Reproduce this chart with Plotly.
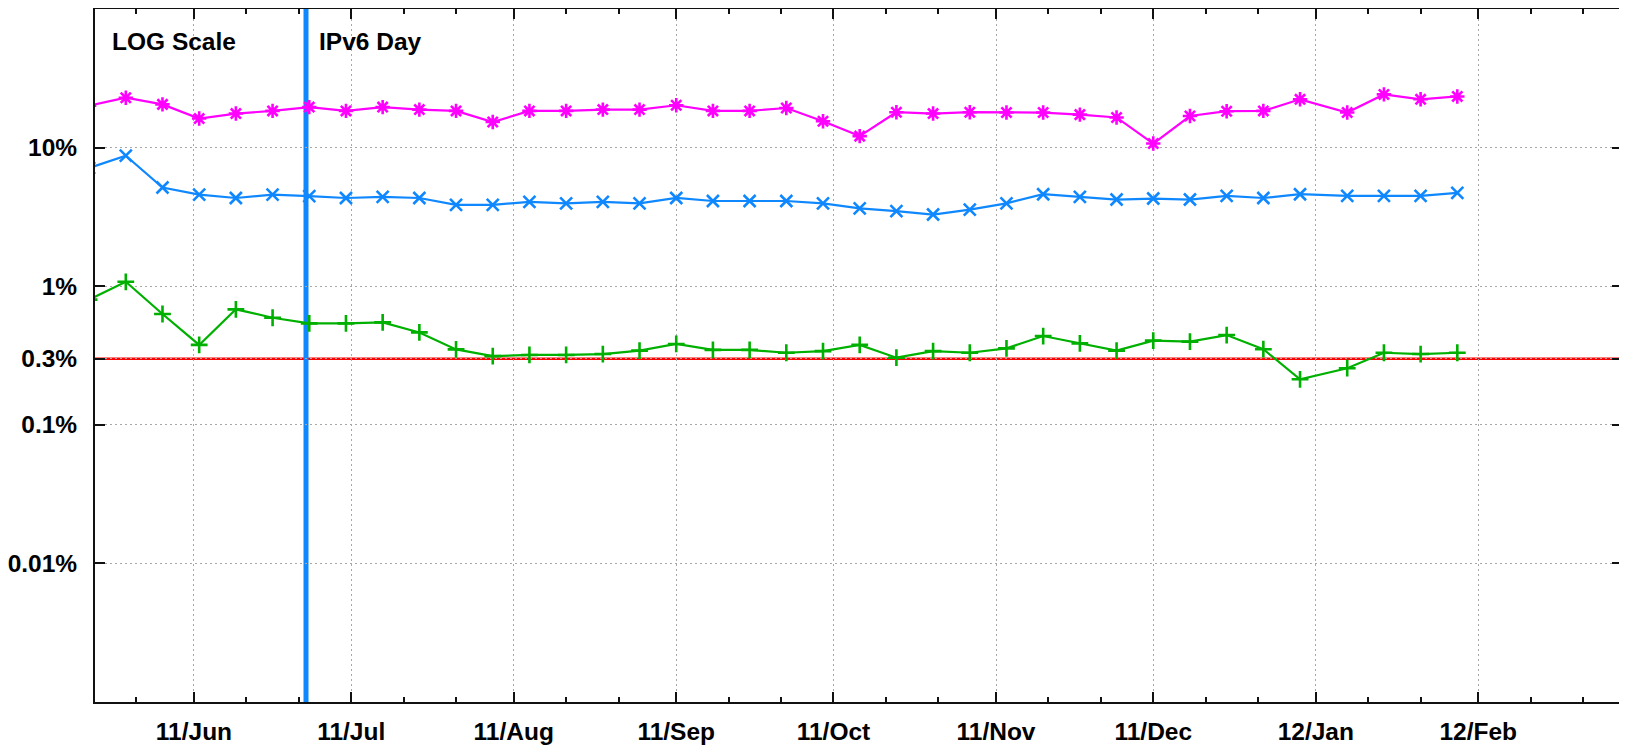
import plotly.graph_objects as go

# ---------------- data (percent values, weekly samples) ----------------
dates = [
    "2011-05-12", "2011-05-19", "2011-05-26", "2011-06-02", "2011-06-09",
    "2011-06-16", "2011-06-23", "2011-06-30", "2011-07-07", "2011-07-14",
    "2011-07-21", "2011-07-28", "2011-08-04", "2011-08-11", "2011-08-18",
    "2011-08-25", "2011-09-01", "2011-09-08", "2011-09-15", "2011-09-22",
    "2011-09-29", "2011-10-06", "2011-10-13", "2011-10-20", "2011-10-27",
    "2011-11-03", "2011-11-10", "2011-11-17", "2011-11-24", "2011-12-01",
    "2011-12-08", "2011-12-15", "2011-12-22", "2011-12-29", "2012-01-07",
    "2012-01-14", "2012-01-21", "2012-01-28",
]

magenta_series = [
    20.1, 22.9, 20.5, 16.2, 17.6, 18.4, 19.6, 18.4, 19.6, 18.8, 18.4, 15.3, 18.4,
    18.4, 18.8, 18.8, 20.2, 18.4, 18.4, 19.3, 15.5, 12.1, 18.0, 17.6, 18.0,
    17.9, 17.9, 17.3, 16.5, 10.7, 16.9, 18.3, 18.4, 22.3, 17.9, 24.2, 22.3, 23.4,
]

blue_series = [
    7.13, 8.75, 5.15, 4.58, 4.33, 4.58, 4.46, 4.33, 4.41, 4.33, 3.86, 3.86, 4.06,
    3.96, 4.06, 3.96, 4.33, 4.12, 4.12, 4.12, 3.96, 3.64, 3.48, 3.29, 3.57,
    3.96, 4.61, 4.41, 4.22, 4.29, 4.22, 4.48, 4.33, 4.61, 4.48, 4.48, 4.48, 4.71,
]

green_series = [
    0.80, 1.076, 0.630, 0.377, 0.681, 0.592, 0.539, 0.539, 0.548, 0.464, 0.350, 0.313, 0.319,
    0.319, 0.324, 0.343, 0.383, 0.347, 0.347, 0.331, 0.340, 0.377, 0.305, 0.340, 0.331,
    0.356, 0.437, 0.387, 0.343, 0.405, 0.398, 0.444, 0.351, 0.213, 0.256, 0.331, 0.324, 0.331,
]

threshold_pct = [0.3]
ipv6_day = ["2011-06-22 09:00"]

x_tick_dates = [
    "2011-06-01", "2011-07-01", "2011-08-01", "2011-09-01", "2011-10-01",
    "2011-11-01", "2011-12-01", "2012-01-01", "2012-02-01",
]
x_tick_labels = ["11/Jun", "11/Jul", "11/Aug", "11/Sep", "11/Oct",
                 "11/Nov", "11/Dec", "12/Jan", "12/Feb"]

y_tick_vals = [10, 1, 0.3, 0.1, 0.01]
y_tick_labels = ["10%", "1%", "0.3%", "0.1%", "0.01%"]

x_range = ["2011-05-13 03:00", "2012-02-28 10:00"]

# minor ticks on the 11th and 21st of each month
minor_months = [(2011, 5), (2011, 6), (2011, 7), (2011, 8), (2011, 9), (2011, 10),
                (2011, 11), (2011, 12), (2012, 1), (2012, 2)]
minor_ticks = []
for yy, mm in minor_months:
    for dd in (11, 21):
        minor_ticks.append(f"{yy}-{mm:02d}-{dd:02d}")

# ---------------- styling ----------------
MAGENTA = "#ff00ff"
BLUE = "#0f88ff"
GREEN = "#00b000"
RED = "#ff0000"
FONT = "Liberation Sans, Arial, sans-serif"

fig = go.Figure()

series = [
    ("series A", magenta_series, MAGENTA, "asterisk-open"),
    ("series B", blue_series, BLUE, "x-thin-open"),
    ("series C", green_series, GREEN, "cross-thin-open"),
]
for name, vals, col, sym in series:
    fig.add_trace(go.Scatter(
        x=dates, y=vals, name=name, mode="lines+markers",
        line=dict(color=col, width=2.2),
        marker=dict(symbol=sym, size=12, color=col, line=dict(color=col, width=2.6)),
        showlegend=False, cliponaxis=True,
    ))

# threshold line
fig.add_shape(type="line", xref="paper", x0=0, x1=1, yref="y",
              y0=threshold_pct[0], y1=threshold_pct[0],
              line=dict(color=RED, width=2.5), layer="between")

# IPv6 day line
fig.add_shape(type="line", xref="x", x0=ipv6_day[0], x1=ipv6_day[0],
              yref="paper", y0=0, y1=1,
              line=dict(color=BLUE, width=5), layer="between")

fig.add_annotation(text="LOG Scale", xref="paper", yref="paper",
                   x=0.0098, y=0.953, xanchor="left", yanchor="middle",
                   showarrow=False,
                   font=dict(family=FONT, size=24.5, color="black", weight="bold"))
fig.add_annotation(text="IPv6 Day", xref="x", yref="paper",
                   x=ipv6_day[0], xshift=11, y=0.953, xanchor="left", yanchor="middle",
                   showarrow=False,
                   font=dict(family=FONT, size=24.5, color="black", weight="bold"))

tickfont = dict(family=FONT, size=24.5, color="black", weight="bold")

fig.update_xaxes(
    type="date", range=x_range, automargin=False,
    tickmode="array", tickvals=x_tick_dates, ticktext=x_tick_labels,
    ticks="inside", ticklen=10, tickwidth=1.5, tickcolor="#111",
    showline=True, linecolor="#111", linewidth=2, mirror="ticks",
    showgrid=True, gridcolor="#a8a8a8", gridwidth=1, griddash="2px,3px",
    zeroline=False, tickfont=tickfont, ticklabelstandoff=7,
    minor=dict(tickmode="array", tickvals=minor_ticks, ticks="inside",
               ticklen=5, tickwidth=1.5, tickcolor="#111", showgrid=False),
)

fig.update_yaxes(
    type="log", range=[-3, 2], automargin=False,
    tickmode="array", tickvals=y_tick_vals, ticktext=y_tick_labels,
    ticks="inside", ticklen=10, tickwidth=1.5, tickcolor="#111",
    showline=True, linecolor="#111", linewidth=2, mirror="ticks",
    showgrid=True, gridcolor="#a8a8a8", gridwidth=1, griddash="2px,3px",
    zeroline=False, tickfont=tickfont, ticklabelstandoff=11,
)

# the page body adds an 8 px offset, so the figure is sized to the remaining area
fig.update_layout(
    width=1619, height=738,
    margin=dict(l=87, r=5, t=1, b=44),
    plot_bgcolor="white", paper_bgcolor="white",
    showlegend=False,
    font=dict(family=FONT, color="black"),
)

fig.write_html("out.html")
